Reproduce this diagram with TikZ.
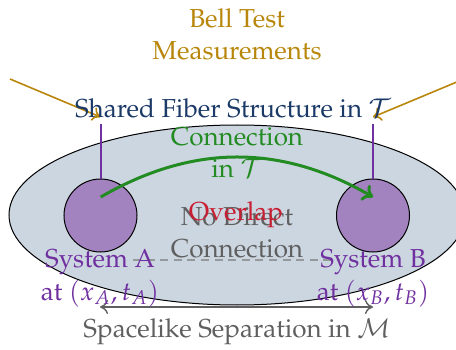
\documentclass[tikz,border=0pt]{standalone}
\usepackage[T1]{fontenc}
\usepackage{mathpazo}
\usetikzlibrary{arrows.meta,shapes.geometric}

\definecolor{fibrefill}{RGB}{204,214,224}
\definecolor{sysfill}{RGB}{163,131,191}
\definecolor{syspurple}{RGB}{112,48,160}
\definecolor{bellgold}{RGB}{184,134,11}
\definecolor{fibrenavy}{RGB}{28,58,104}
\definecolor{linkgreen}{RGB}{34,139,34}
\definecolor{overlapred}{RGB}{200,30,50}
\definecolor{sepgray}{RGB}{95,95,95}

\tikzset{
  lbl/.style={font=\fontsize{13}{16.5}\selectfont, align=center, inner sep=0pt, anchor=base},
  sysdisc/.style={circle, draw=black, line width=0.5pt, fill=sysfill, minimum size=36.5pt, inner sep=0pt},
  probe/.style={draw=bellgold, line width=0.8pt, -{To[length=4pt,width=7pt]}},
  tether/.style={draw=syspurple, line width=1pt},
}

\begin{document}
\begin{tikzpicture}[x=0.5pt, y=0.5pt]
  \useasboundingbox (0,0) rectangle (456,349);
  \clip (0,0) rectangle (456,349);

  % fibre bundle region
  \node (fibre) [ellipse, draw=black, line width=0.5pt, fill=fibrefill,
        minimum width=228pt, minimum height=90pt, inner sep=0pt] at (237,134) {};

  % the two systems
  \node (A) [sysdisc] at (100.5,133.5) {};
  \node (B) [sysdisc] at (373,133.5) {};

  \coordinate (Atop) at (100.5,225);
  \coordinate (Btop) at (373,225);
  \draw[tether] (A.north) -- (Atop);
  \draw[tether] (B.north) -- (Btop);

  % measurement probes
  \coordinate (probeL) at (10,270);
  \coordinate (probeR) at (464,270);
  \coordinate (hitA) at (100.5,232);
  \coordinate (hitB) at (373,232);
  \draw[probe] (probeL) -- (hitA);
  \draw[probe] (probeR) -- (hitB);

  % connection through the fibre
  \coordinate (cA) at (100.7,152);
  \coordinate (cB) at (373,152);
  \draw[linkgreen, line width=1.5pt, -{To[length=5pt,width=9pt]}] (cA) to[bend left=30] (cB);

  % no direct link in spacetime
  \coordinate (dA) at (133,89);
  \coordinate (dB) at (340,89);
  \draw[gray, opacity=0.7, line width=0.6pt, dash pattern=on 4pt off 2.8pt] (dA) -- (dB);

  % spacelike separation
  \coordinate (sA) at (100,42);
  \coordinate (sB) at (373,42);
  \draw[sepgray, line width=0.7pt, {To[length=4pt,width=7pt]}-{To[length=4pt,width=7pt]}] (sA) -- (sB);

  % labels (base anchor sits on the last line)
  \node (bell) [lbl, text=bellgold] at (237,289) {Bell Test\\Measurements};
  \node (shared) [lbl, text=fibrenavy] at (233,232) {Shared Fiber Structure in $\mathcal{T}$};
  \node (conn) [lbl, text=linkgreen] at (237,171) {Connection\\in $\mathcal{T}$};
  \node (nodirect) [lbl, text=sepgray] at (237,91) {No Direct\\Connection};
  \node (overlap) [lbl, text=overlapred] at (236,129) {Overlap};
  \node (labA) [lbl, text=syspurple] at (100,49) {System A\\at $(x_A, t_A)$};
  \node (labB) [lbl, text=syspurple] at (373,49) {System B\\at $(x_B, t_B)$};
  \node (sep) [lbl, text=sepgray] at (237,12) {Spacelike Separation in $\mathcal{M}$};
\end{tikzpicture}
\end{document}
